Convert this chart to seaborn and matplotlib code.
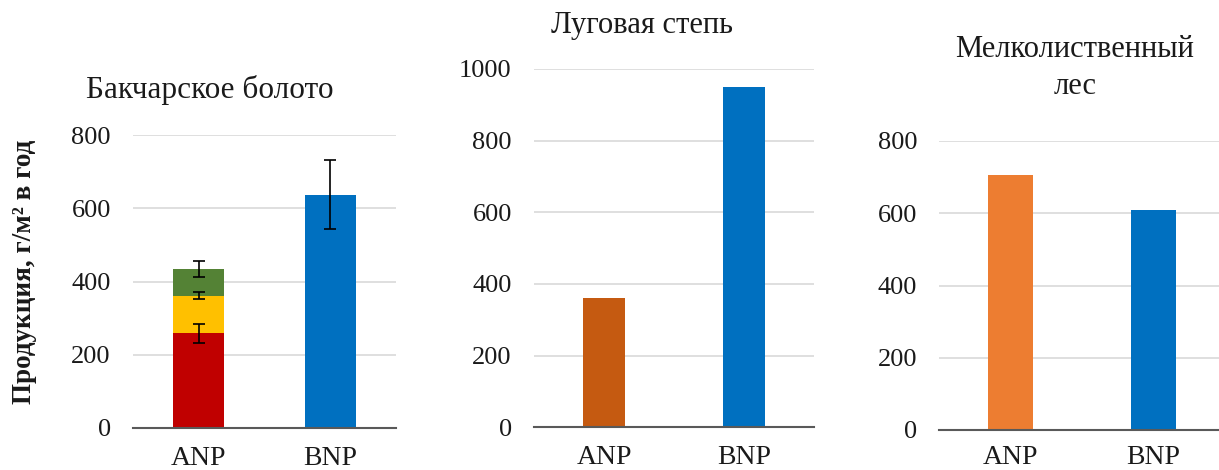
import matplotlib
matplotlib.use("Agg")
import matplotlib.pyplot as plt
import seaborn as sns
import pandas as pd

sns.set_style("white")
plt.rcParams['font.family'] = ['Liberation Serif', 'DejaVu Serif']

categories = ["ANP", "BNP"]

# Panel 1: Бакчарское болото (ANP stacked of three components, BNP single)
bog_anp_parts = [258, 103, 72]          # red, yellow, green components
bog_anp_err = [27, 9, 22]               # error at each cumulative top
bog_bnp = 638
bog_bnp_err = 94

# Panel 2: Луговая степь
steppe_values = [362, 950]

# Panel 3: Мелколиственный лес
forest_values = [707, 608]

titles = ["Бакчарское болото", "Луговая степь", "Мелколиственный\nлес"]
ylabel = "Продукция, г/м² в год"

fig = plt.figure(figsize=(12.19, 4.70), dpi=100)

W, H = 1219, 470
def axes_px(x0, x1, y0, y1):
    return fig.add_axes([x0 / W, (H - y0) / H, (x1 - x0) / W, (y0 - y1) / H])

ax1 = axes_px(133, 396, 427.7, 135.3)
ax2 = axes_px(534, 814, 427.3, 69)
ax3 = axes_px(939.3, 1225, 430, 141)

tick_color = "#1a1a1a"
grid_color = "#d9d9d9"
axis_color = "#595959"

def style(ax, ymax, step, xpad=13):
    ax.set_ylim(0, ymax)
    ax.set_yticks(range(0, ymax + 1, step))
    ax.set_xlim(-0.5, 1.5)
    for s in ["top", "right", "left"]:
        ax.spines[s].set_visible(False)
    ax.spines["bottom"].set_color(axis_color)
    ax.spines["bottom"].set_linewidth(1.5)
    ax.yaxis.grid(True, color=grid_color, linewidth=1.2)
    ax.set_axisbelow(True)
    ax.tick_params(axis="both", length=0, colors=tick_color)
    ax.tick_params(axis="y", pad=16, labelsize=19)
    ax.tick_params(axis="x", pad=xpad, labelsize=20)
    ax.set_xlabel("")
    ax.set_ylabel("")

# Panel 1 stacked (draw cumulative totals back to front)
cum = []
t = 0
for v in bog_anp_parts:
    t += v
    cum.append(t)
stack_colors = ["#c00000", "#ffc000", "#548235"]
for i in reversed(range(3)):
    df = pd.DataFrame({"cat": categories, "val": [cum[i], 0]})
    sns.barplot(data=df, x="cat", y="val", order=categories, color=stack_colors[i],
                saturation=1, width=0.39, linewidth=0, ax=ax1)
df = pd.DataFrame({"cat": categories, "val": [0, bog_bnp]})
sns.barplot(data=df, x="cat", y="val", order=categories, color="#0070c0",
            saturation=1, width=0.39, linewidth=0, ax=ax1)
ia = categories.index("ANP")
ib = categories.index("BNP")
ax1.errorbar([ia] * 3, cum, yerr=bog_anp_err, fmt="none", ecolor="black",
             elinewidth=1.2, capsize=4.5, capthick=1.2)
ax1.errorbar([ib], [bog_bnp], yerr=[bog_bnp_err], fmt="none", ecolor="black",
             elinewidth=1.2, capsize=4.5, capthick=1.2)
style(ax1, 800, 200)

# Panel 2
df2 = pd.DataFrame({"cat": categories, "val": steppe_values})
sns.barplot(data=df2, x="cat", y="val", hue="cat", order=categories,
            palette={"ANP": "#c55a11", "BNP": "#0070c0"}, saturation=1,
            width=0.305, linewidth=0, legend=False, ax=ax2)
style(ax2, 1000, 200)

# Panel 3
df3 = pd.DataFrame({"cat": categories, "val": forest_values})
sns.barplot(data=df3, x="cat", y="val", hue="cat", order=categories,
            palette={"ANP": "#ed7d31", "BNP": "#0070c0"}, saturation=1,
            width=0.315, linewidth=0, legend=False, ax=ax3)
style(ax3, 800, 200, xpad=11)

# Titles
fig.text(210 / W, (H - 90) / H, titles[0], ha="center", va="center", fontsize=22.5, color=tick_color)
fig.text(642 / W, (H - 25) / H, titles[1], ha="center", va="center", fontsize=22, color=tick_color)
fig.text(1075 / W, (H - 68) / H, titles[2], ha="center", va="center", fontsize=22,
         color=tick_color, linespacing=1.35)

# Y label
fig.text(25 / W, (H - 272) / H, ylabel, rotation=90, ha="center", va="center",
         fontsize=19.5, fontweight="bold", color=tick_color)

fig.savefig("out.png", dpi=100)
